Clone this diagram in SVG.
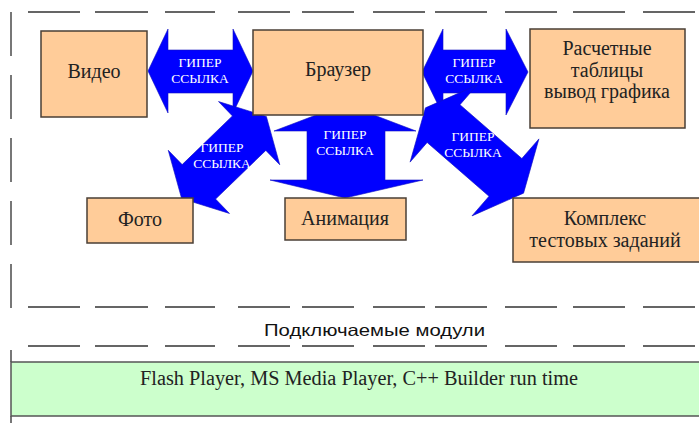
<svg xmlns="http://www.w3.org/2000/svg" xmlns:xlink="http://www.w3.org/1999/xlink" width="699" height="423" viewBox="0 0 699 423">
  <style>
    .node rect { fill: #FFCC99; stroke: #4a3f36; stroke-width: 1.5; }
    .node text { font-family: "Liberation Serif", "Times New Roman", serif; font-size: 20px; fill: #222; text-anchor: middle; }
    .link polygon { fill: #0000FF; stroke: #1010c0; stroke-width: 0.6; stroke-linejoin: miter; }
    .link text { font-family: "Liberation Serif", "Times New Roman", serif; font-size: 13.5px; fill: #ffffff; text-anchor: middle; }
    .dash { fill: none; stroke: #333; stroke-width: 1.5; }
    .vline { fill: none; stroke: #777; stroke-width: 2; }
    .caption { font-family: "Liberation Sans", Arial, sans-serif; font-size: 16.5px; fill: #111; text-anchor: middle; }
    .runtime rect { fill: #CCFFCC; stroke: #555; stroke-width: 1.5; }
    .runtime text { font-family: "Liberation Serif", "Times New Roman", serif; font-size: 20px; fill: #222; }
  </style>
  <defs>
    <!-- one dashed horizontal rule, reused for the frame and the plug-in band -->
    <path id="rule" class="dash" d="M28 0H80M95 0H148M165 0H215M238 0H290M302 0H354M373 0H425M435 0H487M505 0H557M573 0H625M643 0H695"/>
  </defs>

  <!-- frame -->
  <g id="frame">
    <use xlink:href="#rule" href="#rule" transform="translate(0,12)"/>
    <use xlink:href="#rule" href="#rule" transform="translate(0,307)"/>
    <use xlink:href="#rule" href="#rule" transform="translate(0,346)"/>
    <path class="vline" d="M11 12V56M11 75V119M11 138V182M11 201V245M11 264V308M11 350V362M11 416V423"/>
  </g>

  <!-- hyperlink connectors: double-headed block arrows -->
  <g id="connectors">
    <g class="link" id="link-video">
      <polygon points="148,71 168,29 168,50 233,50 233,29 253,71 233,113 233,93 168,93 168,113"/>
      <text x="200" y="67">ГИПЕР</text>
      <text x="200" y="83">ССЫЛКА</text>
    </g>
    <g class="link" id="link-tables">
      <polygon points="422,72 443,29 443,50 506,50 506,29 528,72 506,115 506,93 443,93 443,115"/>
      <text x="474" y="67">ГИПЕР</text>
      <text x="474" y="83">ССЫЛКА</text>
    </g>
    <g class="link" id="link-animation">
      <polygon points="345,104 416,131 385,131 385,180 423,180 345,198 270,180 307,180 307,131 274,131"/>
      <text x="345" y="139">ГИПЕР</text>
      <text x="345" y="155">ССЫЛКА</text>
    </g>
    <g class="link" id="link-photo">
      <polygon transform="translate(224,157.5) rotate(-44.1)" points="-59,0 -35,-44 -35,-24 35,-24 35,-44 59,0 35,44 35,24 -35,24 -35,44"/>
      <text x="222" y="152">ГИПЕР</text>
      <text x="222" y="168">ССЫЛКА</text>
    </g>
    <g class="link" id="link-tests">
      <polygon transform="translate(474.5,150.5) rotate(41)" points="-65,0 -41,-51 -41,-25 41,-25 41,-51 65,0 41,51 41,25 -41,25 -41,51"/>
      <text x="473" y="141">ГИПЕР</text>
      <text x="473" y="157">ССЫЛКА</text>
    </g>
  </g>

  <!-- content nodes -->
  <g class="node" id="video">
    <rect x="41" y="31" width="106" height="86"/>
    <text x="94" y="78">Видео</text>
  </g>
  <g class="node" id="browser">
    <rect x="253" y="30" width="170" height="85"/>
    <text x="338" y="76">Браузер</text>
  </g>
  <g class="node" id="tables">
    <rect x="530" y="29" width="155" height="99"/>
    <text x="607" y="55">Расчетные</text>
    <text x="607" y="77">таблицы</text>
    <text x="607" y="98">вывод графика</text>
  </g>
  <g class="node" id="photo">
    <rect x="87" y="198" width="106" height="45"/>
    <text x="140" y="226">Фото</text>
  </g>
  <g class="node" id="animation">
    <rect x="285" y="198" width="121" height="42"/>
    <text x="345" y="225">Анимация</text>
  </g>
  <g class="node" id="tests">
    <rect x="513" y="198" width="192" height="64"/>
    <text x="605" y="225">Комплекс</text>
    <text x="605" y="247">тестовых заданий</text>
  </g>

  <!-- plug-in band -->
  <text class="caption" x="374.5" y="336" textLength="221" lengthAdjust="spacingAndGlyphs">Подключаемые модули</text>
  <g class="runtime" id="runtime">
    <rect x="11" y="362" width="694" height="54"/>
    <text x="140" y="385" textLength="438" lengthAdjust="spacingAndGlyphs">Flash Player, MS Media Player, C++ Builder run time</text>
  </g>
</svg>
